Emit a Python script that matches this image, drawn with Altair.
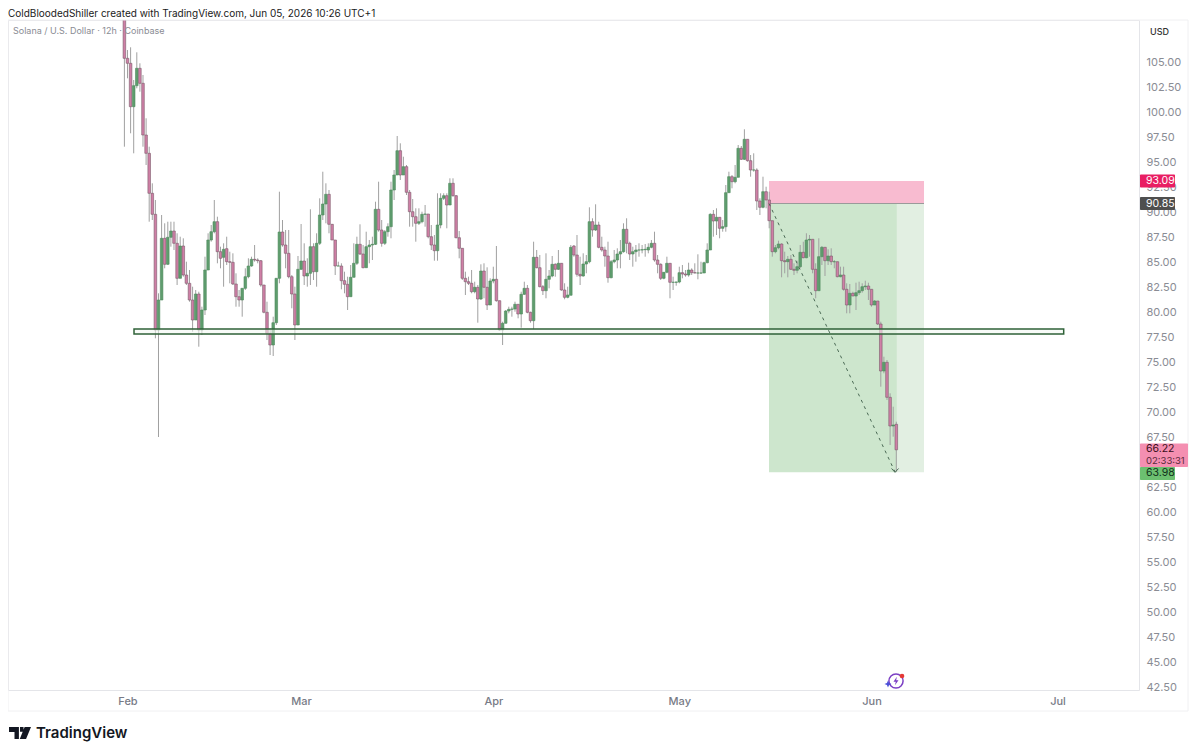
import altair as alt
import pandas as pd

# 12h candles from Jan 31 12:00 (day = days since Feb 1)
opens = [111.5,105.37,104.87,100.53,102.63,104.37,102.87,97.7,95.87,91.87,89.77,78.2,81.2,87.37,84.77,87.47,88.1,86.87,83.37,86.6,
83.7,82.87,81.2,79.2,81.8,78.2,80.2,84.2,87.2,88.03,89.03,86.03,85.47,86.33,85.03,84.97,82.8,81.53,81.2,82.37,
83.53,84.6,85.27,85.2,85.13,82.7,79.97,77.87,76.7,78.93,83.37,88.0,86.7,85.87,83.53,81.8,78.7,84.27,85.1,83.6,
83.87,86.53,84.03,86.87,89.7,90.8,91.77,88.77,87.2,84.6,84.6,83.13,82.77,81.53,83.47,84.87,86.77,85.8,84.43,86.53,
86.7,86.77,90.27,88.2,86.87,88.03,88.53,92.2,93.7,96.13,93.7,94.53,91.97,90.03,89.53,88.87,89.03,89.77,89.8,87.53,
86.7,86.13,88.7,91.37,91.63,90.7,92.87,91.63,87.43,86.37,83.37,83.03,82.87,82.03,82.47,81.3,84.1,82.47,80.7,83.1,
83.27,81.13,78.2,78.87,80.1,80.27,80.3,80.77,79.8,81.77,82.37,79.97,79.13,85.47,84.43,82.53,82.13,83.27,83.6,84.77,
84.27,84.87,82.2,81.47,81.67,86.6,85.7,83.77,83.6,84.8,85.03,89.03,88.2,88.7,86.47,86.2,85.6,83.43,85.03,85.2,
85.8,86.03,88.27,86.87,85.8,86.03,86.2,86.2,86.23,86.2,86.47,86.87,85.2,84.77,83.37,83.97,84.87,82.97,82.97,83.0,
83.93,83.8,83.7,84.2,83.93,83.9,83.9,83.9,84.93,86.2,89.77,89.1,89.47,88.37,88.53,91.93,93.53,93.03,93.47,96.37,
95.27,97.27,95.13,94.2,94.2,91.1,90.47,92.03,91.2,89.13,86.03,86.43,86.8,85.13,85.03,85.27,84.27,84.17,84.53,85.97,
85.43,87.2,87.27,84.27,82.13,85.53,86.47,85.13,85.6,85.03,85.03,83.53,83.7,82.27,80.7,81.87,81.6,81.93,82.13,82.53,
82.6,82.27,80.7,81.1,78.8,74.1,74.97,71.47,68.6,68.77]
highs = [113,106.2,106.47,103.2,105.97,104.87,103.7,99.37,96.53,92.87,91.2,81.87,89.7,88.87,89.03,89.03,89.03,87.87,87.53,87.37,
85.03,84.2,82.53,82.2,82.03,80.53,85.53,87.87,88.7,91.2,89.53,86.53,86.87,87.53,86.03,85.87,83.87,82.2,82.37,84.37,
85.37,85.53,86.7,85.37,85.2,82.7,81.03,78.37,79.53,83.37,92.03,89.2,88.2,88.2,83.7,82.53,85.6,88.8,86.87,85.37,
90.27,86.87,87.87,91.37,94.03,92.87,92.2,88.8,87.2,85.03,84.87,84.03,83.53,84.7,86.87,87.53,88.77,86.7,88.03,87.2,
87.53,91.03,93.03,89.2,88.2,88.87,93.03,94.2,97.6,96.87,95.53,94.7,92.2,91.3,90.37,90.37,90.03,90.7,89.8,88.7,
87.7,91.87,91.87,91.87,91.87,93.37,93.37,91.7,88.1,86.37,84.03,83.53,84.2,83.03,82.7,84.77,84.87,84.47,83.37,84.53,
86.6,81.13,79.03,80.2,80.53,80.53,81.03,80.77,82.03,83.03,82.7,80.03,87.03,86.2,85.7,82.7,85.87,84.2,85.6,84.87,
86.2,84.87,82.87,82.53,86.7,86.7,87.7,85.53,85.87,85.7,90.47,89.37,90.77,89.03,87.53,86.53,87.03,85.2,86.2,86.37,
87.2,88.87,89.37,87.03,86.53,86.7,86.87,86.7,86.8,86.87,87.2,88.03,85.7,84.87,84.0,85.53,84.87,83.53,83.03,84.53,
84.7,84.2,84.93,84.37,84.87,85.77,85.03,85.03,86.87,89.87,90.2,90.37,89.47,89.2,92.7,94.03,93.7,94.7,96.7,96.6,
98.27,97.27,95.7,95.87,94.37,91.37,93.53,92.53,92.03,89.13,86.7,87.13,86.87,86.03,85.6,85.7,84.87,85.13,86.7,87.03,
87.87,87.7,87.27,84.87,87.37,86.6,86.47,86.27,86.37,85.2,85.03,84.53,84.53,82.87,82.8,82.03,82.93,83.03,82.87,83.13,
82.93,82.27,81.2,81.1,79.03,75.53,75.2,71.87,70.53,69.03]
lows = [96.53,103.37,97.87,95.87,102.37,102.03,96.53,94.7,89.03,89.2,77.37,67.5,81.2,84.37,84.7,86.53,86.2,82.7,83.37,83.53,
82.7,81.03,78.03,79.2,76.53,77.7,79.7,84.2,87.03,87.87,84.87,84.37,82.53,84.7,82.87,82.7,80.53,80.53,79.53,82.2,
83.37,84.53,85.03,84.87,82.53,79.87,77.2,75.7,75.6,78.7,82.87,86.53,84.37,83.37,80.37,77.2,78.7,84.2,82.7,82.53,
82.7,83.2,82.53,86.7,89.2,88.87,87.87,87.2,83.7,84.6,82.27,81.87,80.2,81.53,83.47,84.7,85.7,84.37,84.43,84.87,
85.2,86.7,88.03,86.53,86.7,87.53,87.37,91.2,93.7,93.2,93.7,91.7,88.53,88.53,87.03,88.7,88.87,88.53,87.37,86.2,
85.13,85.13,88.37,91.2,88.37,90.7,91.53,87.37,85.37,83.2,81.7,82.7,81.87,81.87,78.93,81.2,81.37,80.2,80.7,82.87,
81.03,78.13,76.7,78.87,79.87,79.53,80.03,79.37,78.43,81.7,79.87,78.93,78.27,84.37,82.47,81.7,81.37,82.37,83.47,83.53,
84.2,82.13,81.27,81.37,81.8,85.53,83.53,82.7,83.53,83.87,84.87,87.53,88.1,86.37,86.03,84.53,82.93,83.37,84.87,84.37,
84.37,85.93,85.87,85.2,84.53,85.03,85.53,85.87,85.53,85.87,86.37,85.03,83.87,83.2,83.27,83.87,81.37,82.2,82.63,82.87,
83.37,83.53,83.53,83.7,83.87,83.27,83.8,83.9,84.87,86.2,87.53,87.7,87.37,88.03,88.03,91.93,92.37,92.87,93.47,95.2,
95.2,95.03,93.53,94.03,90.2,89.7,90.37,90.37,88.37,85.53,85.87,86.27,83.47,83.87,83.47,84.2,83.7,83.87,84.37,85.37,
85.37,85.53,83.87,81.37,82.13,84.7,83.6,84.7,84.7,84.37,83.47,83.47,82.13,79.87,79.87,81.6,80.2,81.7,81.93,82.2,
81.2,80.53,80.7,78.7,72.53,73.87,71.2,66.7,67.53,64.03]
closes = [105.37,104.87,100.53,102.63,104.37,102.87,97.7,95.87,91.87,89.77,78.2,81.2,87.37,84.77,87.47,88.1,86.87,83.37,86.6,83.7,
82.87,81.2,79.2,81.8,78.2,80.2,84.2,87.2,88.03,89.03,86.03,85.37,86.27,85.03,84.97,82.8,81.53,81.2,82.37,83.53,
84.6,85.27,85.2,85.13,82.7,79.97,77.87,76.7,78.93,83.37,88.0,86.7,85.87,83.53,81.8,78.7,84.27,85.1,83.6,83.87,
86.53,84.03,86.87,89.7,90.8,91.77,88.77,87.2,84.6,84.6,83.13,82.77,81.53,83.47,84.87,86.77,85.8,84.43,86.53,86.7,
86.77,90.27,88.2,86.87,88.03,88.53,92.2,93.7,96.13,93.7,94.53,91.97,90.03,89.53,88.87,89.03,89.77,89.8,87.53,86.7,
86.13,88.7,91.37,91.63,90.7,92.87,91.63,87.43,86.37,83.37,83.03,82.87,82.03,82.47,81.3,84.1,82.47,80.7,83.1,83.27,
81.13,78.2,78.87,80.1,80.27,80.3,80.77,79.8,81.77,82.37,79.97,79.13,85.47,84.43,82.53,82.13,83.27,83.6,84.77,84.27,
84.87,82.2,81.47,81.7,86.47,85.7,83.77,83.6,84.8,85.03,89.03,88.2,88.7,86.47,86.2,85.6,83.43,85.03,85.2,85.8,
86.03,88.27,86.87,85.8,86.03,86.2,86.2,86.23,86.27,86.47,86.87,85.2,84.77,83.37,83.97,84.87,82.97,82.97,83.0,83.93,
83.8,83.7,84.2,83.93,83.9,83.9,83.9,84.93,86.2,89.77,89.1,89.47,88.37,88.53,91.93,93.53,93.03,93.47,96.37,95.27,
97.27,95.13,94.2,94.2,91.1,90.47,92.03,91.2,89.13,86.03,86.43,86.8,85.13,85.03,85.27,84.27,84.17,84.53,85.97,85.43,
87.2,87.27,84.27,82.13,85.53,86.47,85.13,85.6,85.03,85.03,83.53,83.7,82.27,80.7,81.87,81.6,81.93,82.13,82.53,82.6,
82.27,80.7,81.1,78.8,74.1,74.97,71.47,68.6,68.7,66.22]

price_ticks = [42.5,45,47.5,50,52.5,55,57.5,60,62.5,65,67.5,70,72.5,75,77.5,80,82.5,85,87.5,90,92.5,95,97.5,100,102.5,105]
month_days = [0,28,59,89,120,150]
month_names = ["Feb","Mar","Apr","May","Jun","Jul"]

entry, stop, target = 90.85, 93.09, 63.98
level_top, level_bot = 78.3, 77.8
pos_left, pos_now, pos_right = 103.47, 124.1, 128.47
zone_left, zone_right = 1.05, 151.0

GREEN, PINK = "#5f9d6e", "#cf7fa6"
AXIS_TEXT = "#8a8c94"
FONT = "Inter"

n = len(closes)
df = pd.DataFrame({"day":[(i-1)*0.5 for i in range(n)],"open":opens[:n],"high":highs[:n],"low":lows[:n],"close":closes})

dmin = -19.274
x_scale = alt.Scale(domain=[dmin, dmin+1131/6.2], nice=False, zero=False, padding=0)
y_scale = alt.Scale(domain=[42.2,109.2], nice=False, zero=False, padding=0)
label_expr = "{0:'Feb',28:'Mar',59:'Apr',89:'May',120:'Jun',150:'Jul'}[datum.value]"
x_axis = alt.Axis(values=month_days, labelExpr=label_expr, title=None, grid=False, ticks=False,
          domain=False, labelFontSize=11, labelColor="#787b86", labelFontWeight=500, labelPadding=5, labelFont=FONT)
y_axis = alt.Axis(orient="right", values=price_ticks, format=".2f", title=None, grid=False, ticks=False,
          domain=False, labelFontSize=11, labelColor=AXIS_TEXT, labelPadding=7, labelFont=FONT)

def PX(f): return alt.X(f, scale=x_scale, axis=x_axis)
def PY(f): return alt.Y(f, scale=y_scale, axis=y_axis)

def box(x0,x1,y0,y1,color,**kw):
    d = pd.DataFrame({"a":[x0],"b":[x1],"c":[y0],"e":[y1]})
    return alt.Chart(d).mark_rect(color=color, **kw).encode(
        x=PX("a:Q"), x2="b:Q", y=PY("c:Q"), y2="e:Q")

reward = box(pos_left,pos_now,entry,target,"#cde6cd")
reward2 = box(pos_now,pos_right,entry,target,"#e2efe2")
risk = box(pos_left,pos_right,stop,entry,"#f8bbd0")
entry_line = alt.Chart(pd.DataFrame({"a":[pos_left],"b":[pos_right],"c":[entry]})).mark_rule(color="#9a9a9a",strokeWidth=1.2).encode(
    x=PX("a:Q"),x2="b:Q",y=PY("c:Q"))

wicks = alt.Chart(df).mark_rule(color="#a0a0a0",strokeWidth=1,clip=True).encode(x=PX("day:Q"),y=PY("low:Q"),y2="high:Q")
up = "datum.close >= datum.open"
bodies = alt.Chart(df).mark_bar(size=2.6,strokeWidth=0.6,clip=True).encode(
    x=PX("day:Q"), y=PY("open:Q"), y2="close:Q",
    fill=alt.condition(up,alt.value(GREEN),alt.value(PINK)),
    stroke=alt.condition(up,alt.value("#4d8a5c"),alt.value("#7a5a6a")))

zone = box(zone_left,zone_right,level_top,level_bot,"#f2f8f2",stroke="#2f6238",strokeWidth=1.5,fillOpacity=0.55)

trend = alt.Chart(pd.DataFrame({"day":[pos_left,123.8],"p":[entry,64.0]})).mark_line(color="#4b6a55",strokeWidth=1,strokeDash=[3,4]).encode(
    x=PX("day:Q"),y=PY("p:Q"))
arrow = alt.Chart(pd.DataFrame({"day":[123.8],"p":[64.0]})).mark_point(shape="M-1,-1L0,0.1L1,-1",size=49,filled=False,color="#4b6a55",strokeWidth=1,opacity=1).encode(
    x=PX("day:Q"),y=PY("p:Q"))

# price badges on the right scale
badges = pd.DataFrame({"top":[93.74,91.5,64.5],"bot":[92.44,90.2,63.2],"color":["#e91e63","#4f4f4f","#6cc070"]})
badge_rects = alt.Chart(badges).mark_rect(cornerRadius=1).encode(
    x=alt.value(1132), x2=alt.value(1167),
    y=PY("top:Q"), y2="bot:Q", color=alt.Color("color:N",scale=None))
wide_badge = alt.Chart(pd.DataFrame({"top":[66.85],"bot":[64.5]})).mark_rect(cornerRadius=1,color="#f48fb1").encode(
    x=alt.value(1132), x2=alt.value(1180), y=PY("top:Q"), y2="bot:Q")
labels = pd.DataFrame({"p":[93.09,90.85,66.3,63.88],"t":["93.09","90.85","66.22","63.98"],
    "c":["#ffffff","#ffffff","#3a1020","#10301a"]})
badge_text = alt.Chart(labels).mark_text(align="left",baseline="middle",fontSize=10.5,font=FONT).encode(
    x=alt.value(1138), y=PY("p:Q"), text="t:N", color=alt.Color("c:N",scale=None))
timer_text = alt.Chart(pd.DataFrame({"p":[65.15],"t":["02:33:31"]})).mark_text(align="left",baseline="middle",fontSize=9.5,font=FONT,color="#5a2a3c").encode(
    x=alt.value(1138), y=PY("p:Q"), text="t:N")

def text(s,px,py,size,color,weight=400,**kw):
    return alt.Chart(pd.DataFrame({"t":[s]})).mark_text(align="left",baseline="middle",fontSize=size,color=color,fontWeight=weight,font=FONT,**kw).encode(
        x=alt.value(px),y=alt.value(py),text="t:N")

header = text("ColdBloodedShiller created with TradingView.com, Jun 05, 2026 10:26 UTC+1",0,-6,10,"#1a1a1a")
sub = text("Solana / U.S. Dollar · 12h · Coinbase",5,11,9,"#8a8c94")
usd = text("USD",1142,12,9,"#333333",500)
brand = text("TradingView",28,713,15,"#131722",600)

def glyph(path,px,py,size,**kw):
    return alt.Chart(pd.DataFrame({"k":[0]})).mark_point(shape=path,size=size,opacity=1,**kw).encode(x=alt.value(px),y=alt.value(py))

logo = glyph("M-1,-0.55L-0.1,-0.55L-0.1,0.55L-0.5,0.55L-0.5,-0.1L-1,-0.1ZM0,-0.55L0.32,-0.55L0.32,-0.12L0,-0.12ZM0.42,-0.55L1,-0.55L0.55,0.55L-0.02,0.55Z",12,713,484,filled=True,color="#131722")
ring = glyph("circle",888,661,200,filled=False,color="#7b3fc4",strokeWidth=1.5)
bolt = glyph("M0.2,-1L-0.6,0.15L-0.05,0.15L-0.25,1L0.6,-0.2L0.05,-0.2Z",888,661,70,filled=True,color="#7b3fc4")
spark = glyph("M0,-1L0.3,-0.3L1,0L0.3,0.3L0,1L-0.3,0.3L-1,0L-0.3,-0.3Z",880,664,50,filled=True,color="#4a4fd8")
dot = glyph("circle",894,656,22,filled=True,color="#e53935")

outer = alt.Chart(pd.DataFrame({"k":[0]})).mark_rect(fillOpacity=0,stroke="#f0f0f2",strokeWidth=1).encode(
    x=alt.value(0),x2=alt.value(1180),y=alt.value(0),y2=alt.value(691))

chart = alt.layer(reward,reward2,risk,entry_line,wicks,bodies,zone,trend,arrow,outer,
                  badge_rects,wide_badge,badge_text,timer_text,header,sub,usd,brand,logo,ring,bolt,spark,dot).resolve_scale(
    color="independent").properties(
    width=1131,height=670,padding={"left":0,"top":12,"right":50,"bottom":60},
    autosize=alt.AutoSizeParams(type="none"),background="#ffffff"
).configure_view(stroke="#e4e5e9")

chart.save("out.html", embed_options={"renderer":"svg","actions":False})
